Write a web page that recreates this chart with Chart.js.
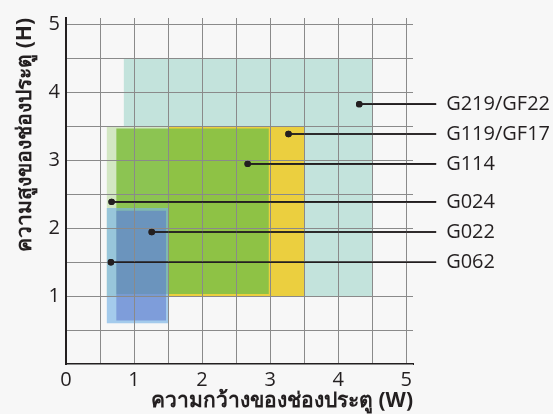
<!DOCTYPE html>
<html lang="th">
<head>
<meta charset="utf-8">
<script src="https://cdn.jsdelivr.net/npm/chart.js@4.4.1/dist/chart.umd.min.js"></script>
<style>
  html, body { margin: 0; padding: 0; background: #f7f7f7; }
  #wrap { width: 553px; height: 414px; }
</style>
</head>
<body>
<div id="wrap"><canvas id="door-chart"></canvas></div>
<script>
// ขนาดช่องประตูที่รองรับของแต่ละรุ่น (กว้าง W x สูง H, เมตร)
const models    = ['G219/GF22', 'G119/GF17', 'G114', 'G024', 'G022', 'G062'];
const widthMin  = [0.85, 0.85, 0.74, 0.60, 0.74, 0.60];
const widthMax  = [4.50, 3.50, 2.98, 1.50, 1.47, 1.50];
const heightMin = [1.00, 1.00, 1.03, 1.00, 0.64, 0.60];
const heightMax = [4.50, 3.50, 3.47, 3.50, 2.26, 2.30];

// จุดชี้ของเส้นป้ายชื่อแต่ละรุ่น
const markerX = [4.31, 3.27, 2.67, 0.67, 1.26, 0.66];
const markerY = [3.83, 3.39, 2.95, 2.39, 1.945, 1.50];

// เส้นกริดทุก 0.5 และตัวเลขแกนเฉพาะจำนวนเต็ม
const gridValues  = [0, 0.5, 1, 1.5, 2, 2.5, 3, 3.5, 4, 4.5, 5];
const xTickLabels = ['0', '1', '2', '3', '4', '5'];
const yTickLabels = ['1', '2', '3', '4', '5'];

// สไตล์ (เรียงตาม models)
const fillColors = [
    '#c3e3dc',
    '#ebcf3f',
    'rgba(132, 192, 70, 0.9)',
    '#d3e7c3',
    'rgba(88, 112, 200, 0.5)',
    'rgba(120, 180, 230, 0.65)'
];
const drawOrder = [6, 5, 3, 4, 1, 2];
const LEADER_END = 5.44;   // ปลายเส้นป้ายชื่อ (หน่วยแกน x)
const textColor = '#231f20';
const fontFamily = '"Open Sans", "Noto Sans", sans-serif';

// สี่เหลี่ยมแต่ละรุ่นเป็นเส้นปิดแล้วเติมสีด้านใน
const areaDatasets = models.map((name, i) => ({
    type: 'line',
    label: name,
    data: [
        { x: widthMin[i], y: heightMin[i] },
        { x: widthMax[i], y: heightMin[i] },
        { x: widthMax[i], y: heightMax[i] },
        { x: widthMin[i], y: heightMax[i] },
        { x: widthMin[i], y: heightMin[i] }
    ],
    fill: 'shape',
    backgroundColor: fillColors[i],
    borderColor: 'rgba(0,0,0,0)',
    borderWidth: 0,
    pointRadius: 0,
    tension: 0,
    order: drawOrder[i]
}));

const leaderDatasets = models.map((name, i) => ({
    type: 'line',
    label: name + ' marker',
    isLeader: true,
    data: [
        { x: markerX[i], y: markerY[i] },
        { x: LEADER_END, y: markerY[i] }
    ],
    borderColor: textColor,
    borderWidth: 1.6,
    pointRadius: [3.2, 0],
    pointBackgroundColor: textColor,
    pointBorderWidth: 0,
    fill: false,
    clip: false,
    order: 0
}));

// ป้ายชื่อรุ่นด้านขวา + วาดเส้นชี้ทับเส้นกริดอีกครั้ง
const leaderLabels = {
    id: 'leaderLabels',
    beforeDraw(chart) {
        const ctx = chart.ctx;
        ctx.save();
        ctx.fillStyle = '#f7f7f7';
        ctx.fillRect(0, 0, chart.width, chart.height);
        ctx.restore();
    },
    afterDraw(chart) {
        const { ctx, scales: { x, y } } = chart;
        chart.data.datasets.forEach((ds, i) => {
            if (ds.isLeader) chart.getDatasetMeta(i).controller.draw();
        });
        ctx.save();
        ctx.font = '20px ' + fontFamily;
        ctx.fillStyle = textColor;
        ctx.textAlign = 'left';
        ctx.textBaseline = 'middle';
        models.forEach((name, i) => {
            ctx.fillText(name, x.getPixelForValue(LEADER_END) + 10, y.getPixelForValue(markerY[i]));
        });
        ctx.restore();
    }
};

const gridStyle = { color: '#8a8a8a', lineWidth: 1, drawTicks: false, z: 1 };
const borderStyle = { display: true, color: textColor, width: 2, z: 1 };

new Chart(document.getElementById('door-chart'), {
    type: 'scatter',
    data: { datasets: [...leaderDatasets, ...areaDatasets] },
    options: {
        responsive: true,
        maintainAspectRatio: false,
        animation: false,
        layout: { padding: { left: 0, top: 17, right: 140, bottom: 0 } },
        plugins: {
            legend: { display: false },
            tooltip: { enabled: false }
        },
        scales: {
            x: {
                type: 'linear',
                min: 0,
                max: 5.1,
                afterBuildTicks: scale => { scale.ticks = gridValues.map(v => ({ value: v })); },
                afterFit: scale => { scale.height = 50; },
                grid: gridStyle,
                border: borderStyle,
                ticks: {
                    autoSkip: false,
                    maxRotation: 0,
                    padding: 4,
                    color: textColor,
                    font: { family: fontFamily, size: 20 },
                    callback: v => xTickLabels.includes(String(v)) ? String(v) : ''
                },
                title: {
                    display: true,
                    text: 'ความกว้างของช่องประตู (W)',
                    align: 'end',
                    color: textColor,
                    font: { family: fontFamily, size: 21, weight: 'bold' },
                    padding: { top: 0, bottom: 0 }
                }
            },
            y: {
                type: 'linear',
                min: 0,
                max: 5.1,
                afterBuildTicks: scale => { scale.ticks = gridValues.map(v => ({ value: v })); },
                afterFit: scale => { scale.width = 66; },
                grid: gridStyle,
                border: borderStyle,
                ticks: {
                    autoSkip: false,
                    padding: 6,
                    color: textColor,
                    font: { family: fontFamily, size: 20 },
                    callback: v => yTickLabels.includes(String(v)) ? String(v) : ''
                },
                title: {
                    display: true,
                    text: 'ความสูงของช่องประตู (H)',
                    align: 'end',
                    color: textColor,
                    font: { family: fontFamily, size: 21, weight: 'bold' },
                    padding: { top: 12, bottom: 0 }
                }
            }
        }
    },
    plugins: [leaderLabels]
});
</script>
</body>
</html>
